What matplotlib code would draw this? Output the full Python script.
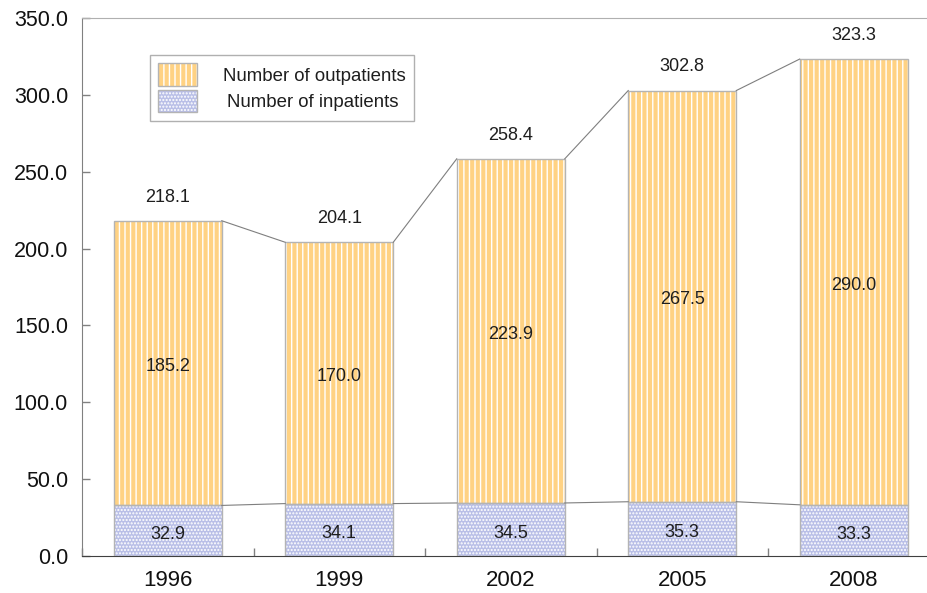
import matplotlib
matplotlib.use("Agg")
import matplotlib.pyplot as plt
from matplotlib.patches import Patch
from matplotlib.legend_handler import HandlerTuple
import numpy as np

plt.rcParams['font.family'] = ['Liberation Sans', 'DejaVu Sans']
plt.rcParams['hatch.linewidth'] = 1.0

years = ["1996", "1999", "2002", "2005", "2008"]
inpatients = [32.9, 34.1, 34.5, 35.3, 33.3]
outpatients = [185.2, 170.0, 223.9, 267.5, 290.0]
totals = [218.1, 204.1, 258.4, 302.8, 323.3]
yticks = [0, 50, 100, 150, 200, 250, 300, 350]

fig = plt.figure(figsize=(9.28, 5.93), dpi=100)
ax = fig.add_axes([82/928, 37/593, 857.5/928, 538/593])

x = np.arange(len(years))
w = 0.63
out_face = '#FFD283'
in_face = '#B9BFE7'
edge = '#B4B4B4'
txt = '#1E1E1E'

# inpatients
ax.bar(x, inpatients, w, color=in_face, edgecolor='white', hatch='.....', linewidth=0, zorder=2)
ax.bar(x, inpatients, w, fill=False, edgecolor=edge, linewidth=1, zorder=3)
# outpatients
ax.bar(x, outpatients, w, bottom=inpatients, color=out_face, edgecolor='white', hatch='|||', linewidth=0, zorder=2)
ax.bar(x, outpatients, w, bottom=inpatients, fill=False, edgecolor=edge, linewidth=1, zorder=3)

# series lines
for i in range(len(years) - 1):
    ax.plot([x[i] + w/2, x[i+1] - w/2], [totals[i], totals[i+1]], color='#7F7F7F', lw=0.8, zorder=4)
    ax.plot([x[i] + w/2, x[i+1] - w/2], [inpatients[i], inpatients[i+1]], color='#7F7F7F', lw=0.8, zorder=4)

# labels
for i in range(len(years)):
    ax.annotate(f"{totals[i]:.1f}", (x[i], totals[i]), xytext=(0, 17), textcoords='offset points',
                ha='center', va='center', fontsize=13, color=txt)
    ax.text(x[i], inpatients[i] + outpatients[i] / 2 - 2.5, f"{outpatients[i]:.1f}", ha='center', va='center',
            fontsize=13, color=txt, zorder=5)
    ax.text(x[i], inpatients[i] / 2 - 2.5, f"{inpatients[i]:.1f}", ha='center', va='center',
            fontsize=13, color=txt, zorder=5)

ax.set_xlim(-0.5, len(years) - 0.5)
ax.set_ylim(0, 350)
ax.set_yticks(yticks)
ax.set_yticklabels([f"{v:.1f}" for v in yticks])
ax.tick_params(axis='y', direction='in', length=6, width=1, color='#808080', labelsize=15.5, pad=10,
               labelcolor='#111111')

ax.set_xticks(np.arange(len(years) + 1) - 0.5)
ax.set_xticklabels([])
ax.set_xticks(x, minor=True)
ax.set_xticklabels(years, minor=True)
ax.tick_params(axis='x', which='major', direction='in', length=6, width=1, color='#808080')
ax.tick_params(axis='x', which='minor', length=0, labelsize=16, pad=10, labelcolor='#111111')

ax.spines['left'].set_color('#808080')
ax.spines['top'].set_color('#B0B0B0')
ax.spines['right'].set_visible(False)
ax.spines['bottom'].set_color('#404040')

h1 = (Patch(facecolor=out_face, edgecolor='white', hatch='|||', linewidth=0),
      Patch(fill=False, edgecolor=edge, linewidth=1))
h2 = (Patch(facecolor=in_face, edgecolor='white', hatch='.....', linewidth=0),
      Patch(fill=False, edgecolor=edge, linewidth=1))
leg = ax.legend([h1, h2], ["Number of outpatients", "Number of inpatients"],
                handler_map={tuple: HandlerTuple(ndivide=1, pad=0)},
                loc='upper left', bbox_to_anchor=(0.079, 0.931), fontsize=13.4,
                handlelength=2.1, handleheight=1.45, handletextpad=1.4, labelspacing=0.25,
                borderpad=0.45, borderaxespad=0, fancybox=False, edgecolor='#B0B0B0', framealpha=1)
leg.get_frame().set_linewidth(1)
for t in leg.get_texts():
    t.set_color(txt)
# centre the shorter label under the longer one, as in the reference
leg.get_texts()[1].set_position((4, 0))

fig.savefig("out.png", dpi=100)
